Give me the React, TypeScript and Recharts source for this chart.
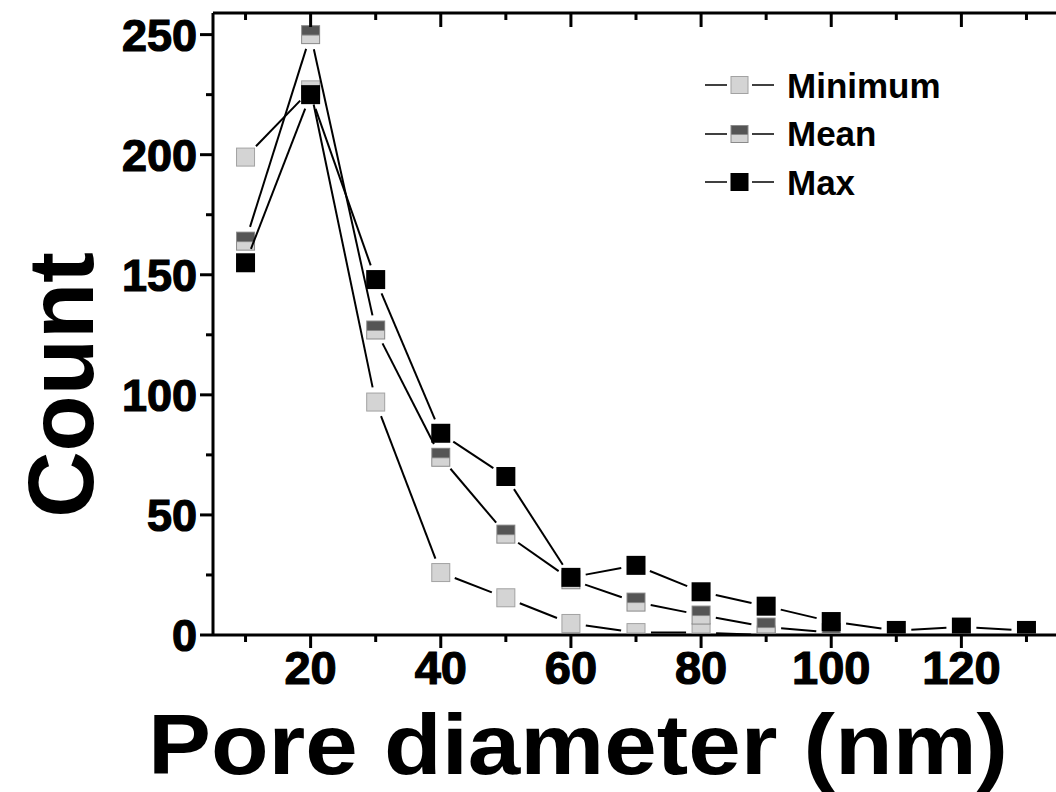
import React from 'react'
import { Legend, Line, LineChart, XAxis, YAxis } from 'recharts'

const diameters = [10, 20, 30, 40, 50, 60, 70, 80, 90, 100, 110, 120, 130]
const minimumCounts = [199, 227, 97, 26, 15.5, 4.8, 1, 1, 0]
const meanCounts = [164, 250, 127, 74, 42, 23, 13.7, 8.3, 3.3, 1]
const maxCounts = [155, 225, 148, 84, 66, 24, 29, 18, 12, 5.6, 1.9, 3.3, 1.9]

const xTicks = [10, 20, 30, 40, 50, 60, 70, 80, 90, 100, 110, 120, 130]
const xLabelled = [20, 40, 60, 80, 100, 120]
const yTicks = [0, 25, 50, 75, 100, 125, 150, 175, 200, 225, 250]
const yLabelled = [0, 50, 100, 150, 200, 250]

const seriesInfo = [
  { key: 'minimum', name: 'Minimum' },
  { key: 'mean', name: 'Mean' },
  { key: 'max', name: 'Max' },
]

const data = diameters.map((d, i) => ({
  diameter: d,
  minimum: minimumCounts[i],
  mean: meanCounts[i],
  max: maxCounts[i],
}))

const FONT = '"Liberation Sans", Arial, sans-serif'
const CHART_W = 1062
const CHART_H = 792
const TOP_H = 13
const BOTTOM_H = 157
const LEFT_W = 213
const PLOT_BOTTOM = CHART_H - BOTTOM_H
const MARK = 19
const GAP = 15

function Marker({ kind, cx, cy, size, clipBottom = Infinity }: any) {
  const h = size / 2
  const top = cy - h
  const bottom = Math.min(cy + h, clipBottom)
  if (bottom <= top) return null
  if (kind === 'max') {
    return <rect x={cx - h} y={top} width={size} height={bottom - top} fill="#000" />
  }
  if (kind === 'minimum') {
    return (
      <rect x={cx - h + 0.5} y={top + 0.5} width={size - 1} height={Math.max(bottom - top - 1, 0)}
        fill="#d4d4d4" stroke="#a2a2a2" strokeWidth={1} />
    )
  }
  const mid = Math.min(cy, bottom)
  return (
    <g>
      <rect x={cx - h} y={top} width={size} height={bottom - top} fill="#8a8a8a" />
      <rect x={cx - h + 1} y={top + 1} width={size - 2} height={Math.max(mid - top - 1, 0)} fill="#555555" />
      {bottom > cy + 1 && (
        <rect x={cx - h + 1} y={cy + 1} width={size - 2} height={Math.max(bottom - cy - 2, 0)} fill="#d4d4d4" />
      )}
    </g>
  )
}

// line segment to the next point (with Origin-style gaps) plus the marker
function makeDot(kind: string) {
  return (props: any) => {
    const { cx, cy, index, points, value } = props
    if (cx == null || cy == null || value == null) return <g key={`d-${kind}-${index}`} />
    const next = points ? points[index + 1] : null
    let seg = null
    if (next && next.y != null && next.value != null) {
      const dx = next.x - cx
      const dy = next.y - cy
      const len = Math.sqrt(dx * dx + dy * dy)
      if (len > GAP * 2) {
        const ux = dx / len
        const uy = dy / len
        seg = (
          <line x1={cx + ux * GAP} y1={cy + uy * GAP} x2={next.x - ux * GAP} y2={next.y - uy * GAP}
            stroke="#000" strokeWidth={2} />
        )
      }
    }
    return (
      <g key={`d-${kind}-${index}`}>
        {seg}
        <Marker kind={kind} cx={cx} cy={cy} size={MARK} clipBottom={PLOT_BOTTOM - 1.5} />
      </g>
    )
  }
}

function BottomTick({ x, y, payload }: any) {
  const major = xLabelled.includes(payload.value)
  return (
    <g>
      <line x1={x} y1={y} x2={x} y2={y + (major ? 13 : 7)} stroke="#000" strokeWidth={3} />
      {major && (
        <text x={x} y={y + 49} textAnchor="middle" fontFamily={FONT} fontWeight="bold" fontSize={47}
          fill="#000" stroke="#000" strokeWidth={1.2}>
          {payload.value}
        </text>
      )}
    </g>
  )
}

function TopTick({ x, y, payload }: any) {
  const major = xLabelled.includes(payload.value)
  return <line x1={x} y1={y} x2={x} y2={y + (major ? 14 : 7)} stroke="#000" strokeWidth={3} />
}

function LeftTick({ x, y, payload }: any) {
  const major = yLabelled.includes(payload.value)
  return (
    <g>
      <line x1={x} y1={y} x2={x - (major ? 13 : 7)} y2={y} stroke="#000" strokeWidth={3} />
      {major && (
        <text x={x - 16} y={y + 16} textAnchor="end" fontFamily={FONT} fontWeight="bold" fontSize={45}
          fill="#000" stroke="#000" strokeWidth={1.2}>
          {payload.value}
        </text>
      )}
    </g>
  )
}

function RightTick({ x, y, payload }: any) {
  const major = yLabelled.includes(payload.value)
  return <line x1={x} y1={y} x2={x - (major ? 14 : 7)} y2={y} stroke="#000" strokeWidth={3} />
}

function LegendBox() {
  return (
    <div style={{ fontFamily: FONT, fontWeight: 'bold', fontSize: 35, color: '#000' }}>
      {seriesInfo.map(s => (
        <div key={s.key} style={{ display: 'flex', alignItems: 'center', height: 48.5 }}>
          <svg width={70} height={22} style={{ display: 'block' }}>
            <line x1={0} y1={11} x2={22} y2={11} stroke="#000" strokeWidth={1.5} />
            <Marker kind={s.key} cx={34.5} cy={11} size={18} />
            <line x1={47} y1={11} x2={69} y2={11} stroke="#000" strokeWidth={1.5} />
          </svg>
          <span style={{ marginLeft: 12, lineHeight: 1 }}>{s.name}</span>
        </div>
      ))}
    </div>
  )
}

const axisLine = { stroke: '#000', strokeWidth: 3 }

export default function App() {
  return (
    <div style={{ position: 'absolute', left: 0, top: 0, width: 1056, height: 792, overflow: 'hidden', background: '#fff' }}>
      <LineChart width={CHART_W} height={CHART_H} data={data} margin={{ top: 0, right: 0, bottom: 0, left: 0 }}>
        <XAxis
          dataKey="diameter"
          type="number"
          domain={[5, 135]}
          ticks={xTicks}
          interval={0}
          height={BOTTOM_H}
          tickSize={0}
          tickMargin={0}
          tickLine={false}
          axisLine={axisLine}
          tick={<BottomTick />}
          label={{
            content: () => (
              <text x={578} y={774} textAnchor="middle" fontFamily={FONT} fontWeight="bold" fontSize={86}
                textLength={860} lengthAdjust="spacingAndGlyphs" fill="#000">
                Pore diameter (nm)
              </text>
            ),
          }}
        />
        <XAxis
          xAxisId="top"
          orientation="top"
          dataKey="diameter"
          type="number"
          domain={[5, 135]}
          ticks={xTicks}
          interval={0}
          height={TOP_H}
          tickSize={0}
          tickMargin={0}
          tickLine={false}
          axisLine={axisLine}
          tick={<TopTick />}
        />
        <YAxis
          type="number"
          domain={[0, 259]}
          ticks={yTicks}
          interval={0}
          width={LEFT_W}
          tickSize={0}
          tickMargin={0}
          tickLine={false}
          axisLine={axisLine}
          tick={<LeftTick />}
          label={{
            content: () => (
              <text x={93} y={385} transform="rotate(-90, 93, 385)" textAnchor="middle" fontFamily={FONT}
                fontWeight="bold" fontSize={92} fill="#000">
                Count
              </text>
            ),
          }}
        />
        <YAxis
          yAxisId="right"
          orientation="right"
          type="number"
          domain={[0, 259]}
          ticks={yTicks}
          interval={0}
          width={3}
          tickSize={0}
          tickMargin={0}
          tickLine={false}
          axisLine={axisLine}
          tick={<RightTick />}
        />
        <Legend
          content={<LegendBox />}
          layout="vertical"
          align="center"
          verticalAlign="middle"
          wrapperStyle={{ left: 705, top: 61, width: 'auto' }}
        />
        {seriesInfo.map(s => (
          <Line
            key={s.key}
            dataKey={s.key}
            name={s.name}
            stroke="none"
            dot={makeDot(s.key)}
            activeDot={false}
            isAnimationActive={false}
          />
        ))}
      </LineChart>
    </div>
  )
}
